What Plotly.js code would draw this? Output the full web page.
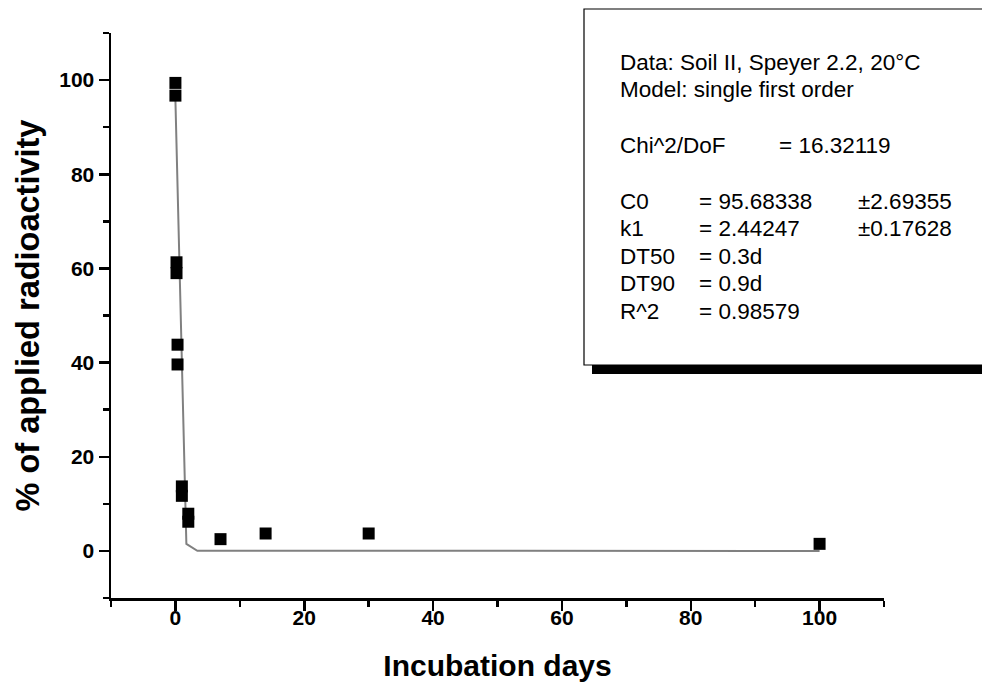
<!DOCTYPE html>
<html><head><meta charset="utf-8">
<script src="https://cdn.plot.ly/plotly-3.0.1.min.js"></script>
<style>html,body{margin:0;padding:0;background:#fff}#chart{width:982px;height:693px}</style>
</head><body><div id="chart"></div>
<script>
// Observed data (days, % of applied radioactivity)
const obsDays    = [0, 0, 0.17, 0.17, 0.33, 0.33, 1, 1, 2, 2, 7, 14, 30, 100];
const obsPercent = [99.4, 96.7, 61.3, 59.0, 43.8, 39.6, 13.7, 11.7, 7.9, 6.2, 2.5, 3.7, 3.7, 1.5];
// Fitted curve vertices
const fitDays    = [0, 1.7, 3.4, 100];
const fitPercent = [95.7, 1.5, 0.02, 0];

// Info box text
const infoHeader  = ["Data: Soil II, Speyer 2.2, 20°C", "Model: single first order"];
const statLabels  = ["Chi^2/DoF", "C0", "k1", "DT50", "DT90", "R^2"];
const statValues  = ["= 16.32119", "= 95.68338", "= 2.44247", "= 0.3d", "= 0.9d", "= 0.98579"];
const statErrors  = ["", "±2.69355", "±0.17628", "", "", ""];

const W = 982, H = 693;
const L = 111, R = 884, T = 33, B = 598;
const px = x => (x - L) / (R - L);
const py = y => (B - y) / (B - T);

const headerY = [62, 89];
const statY = [145, 202, 228, 256, 283, 311];
const valueX = [779, 699, 699, 699, 699, 699];
const boxFont = {family: "Liberation Sans, Arial, sans-serif", size: 22.5, color: "#000"};

const annotations = [];
function addText(text, x, y) {
  if (!text) return;
  annotations.push({text: text, xref: "paper", yref: "paper", x: px(x - 2), y: py(y),
    xanchor: "left", yanchor: "middle", showarrow: false, font: boxFont});
}
infoHeader.forEach((t, i) => addText(t, 620, headerY[i]));
statLabels.forEach((t, i) => {
  addText(t, 620, statY[i]);
  addText(statValues[i], valueX[i], statY[i]);
  addText(statErrors[i], 858, statY[i]);
});

const tickFont = {family: "Liberation Sans, Arial, sans-serif", size: 21, color: "#000", weight: "bold"};
const xTitleFont = {family: "Liberation Sans, Arial, sans-serif", size: 30, color: "#000", weight: "bold"};
const yTitleFont = {family: "Liberation Sans, Arial, sans-serif", size: 32.5, color: "#000", weight: "bold"};

const data = [
  {x: fitDays, y: fitPercent, type: "scatter", mode: "lines",
   line: {color: "#808080", width: 2}, hoverinfo: "skip"},
  {x: obsDays, y: obsPercent, type: "scatter", mode: "markers",
   marker: {symbol: "square", size: 12, color: "#000"}}
];

const layout = {
  width: W, height: H,
  margin: {l: L, r: W - R, t: T, b: H - B, pad: 0},
  paper_bgcolor: "#fff", plot_bgcolor: "#fff",
  showlegend: false,
  xaxis: {
    range: [-10, 110], tick0: 0, dtick: 20, ticks: "outside", ticklen: 10, tickwidth: 2.5,
    tickcolor: "#000", showline: true, linecolor: "#000", linewidth: 2.5,
    showgrid: false, zeroline: false, tickfont: tickFont, automargin: false,
    ticklabelstandoff: -11,
    minor: {tick0: 0, dtick: 10, ticks: "outside", ticklen: 6, tickwidth: 2.5, tickcolor: "#000", showgrid: false},
    title: {text: "Incubation days", font: xTitleFont, standoff: 28}
  },
  yaxis: {
    range: [-10, 110], tick0: 0, dtick: 20, ticks: "outside", ticklen: 10, tickwidth: 2.5,
    tickcolor: "#000", showline: true, linecolor: "#000", linewidth: 2.5,
    showgrid: false, zeroline: false, tickfont: tickFont, automargin: false,
    minor: {tick0: 0, dtick: 10, ticks: "outside", ticklen: 6, tickwidth: 2.5, tickcolor: "#000", showgrid: false},
    title: {text: "% of applied radioactivity", font: yTitleFont, standoff: 10}
  },
  shapes: [
    {type: "rect", xref: "paper", yref: "paper", x0: px(592), x1: px(1000), y0: py(374), y1: py(360),
     fillcolor: "#000", line: {width: 0}, layer: "above"},
    {type: "rect", xref: "paper", yref: "paper", x0: px(584), x1: px(1000), y0: py(365), y1: py(9),
     fillcolor: "#fff", line: {color: "#000", width: 1.2}, layer: "above"}
  ],
  annotations: annotations
};

Plotly.newPlot("chart", data, layout, {displayModeBar: false, staticPlot: true});
</script>
</body></html>
